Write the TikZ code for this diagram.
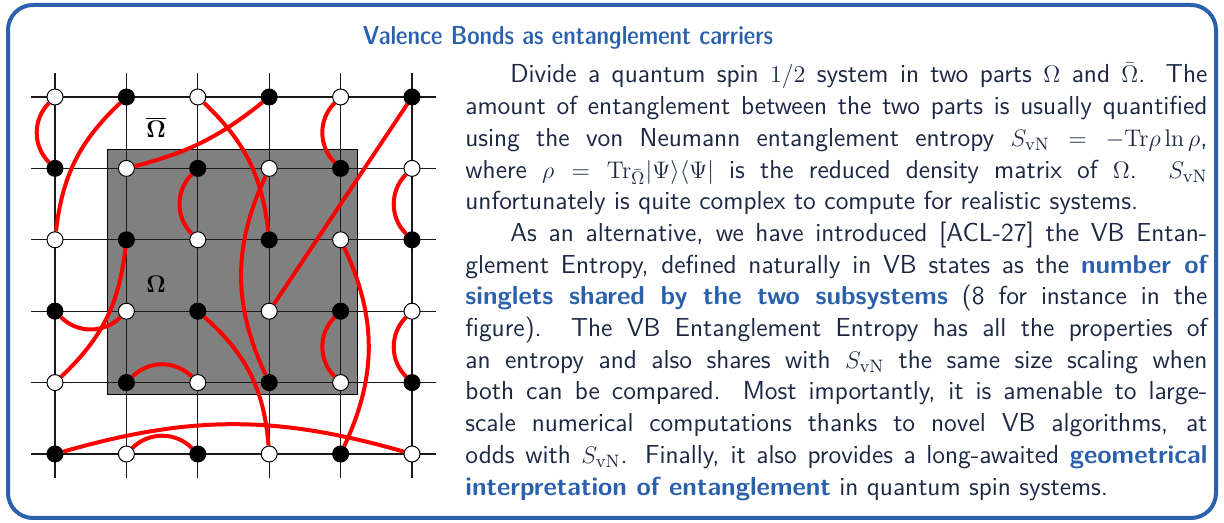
\documentclass[tikz,border=0pt]{standalone}
\usepackage{xcolor}
\usepackage{tikz}
\usepackage{amsmath}

\definecolor{frameblue}{RGB}{43,97,172}
\definecolor{textnavy}{RGB}{28,40,68}
\newcommand{\bluebf}[1]{\textcolor{frameblue}{\bfseries #1}}

\tikzset{
  wsite/.style={circle,draw=black,fill=white,inner sep=0pt,minimum size=8pt,line width=0.5pt},
  bsite/.style={wsite,fill=black},
  bond/.style={red,line width=2pt},
}

\begin{document}
\begin{tikzpicture}[x=0.5pt,y=0.5pt,font=\sffamily\fontsize{13pt}{15.85pt}\selectfont]
\useasboundingbox (0,0) rectangle (1224,523);
\draw[frameblue,line width=2pt,rounded corners=12.5pt] (8,5) rectangle (1216,518);
\node[frameblue,anchor=base,font=\sffamily\fontsize{13pt}{15.85pt}\fontseries{sbc}\selectfont] (title) at (568,478) {Valence Bonds as entanglement carriers};

% lattice, one unit = one bond length
\begin{scope}[shift={(27.5pt,34.5pt)},x=35.7pt,y=35.7pt]
\draw[fill=gray,draw=black,line width=0.5pt] (0.74,0.84) rectangle (4.24,4.26);
\draw[black!90,line width=0.65pt,step=1] (-0.33,-0.33) grid (5.33,5.33);
% sites, top row first
\node[wsite] (n11) at (0,5) {}; \node[bsite] (n12) at (1,5) {}; \node[wsite] (n13) at (2,5) {};
\node[bsite] (n14) at (3,5) {}; \node[wsite] (n15) at (4,5) {}; \node[bsite] (n16) at (5,5) {};
\node[bsite] (n21) at (0,4) {}; \node[wsite] (n22) at (1,4) {}; \node[bsite] (n23) at (2,4) {};
\node[wsite] (n24) at (3,4) {}; \node[bsite] (n25) at (4,4) {}; \node[wsite] (n26) at (5,4) {};
\node[wsite] (n31) at (0,3) {}; \node[bsite] (n32) at (1,3) {}; \node[wsite] (n33) at (2,3) {};
\node[bsite] (n34) at (3,3) {}; \node[wsite] (n35) at (4,3) {}; \node[bsite] (n36) at (5,3) {};
\node[bsite] (n41) at (0,2) {}; \node[wsite] (n42) at (1,2) {}; \node[bsite] (n43) at (2,2) {};
\node[wsite] (n44) at (3,2) {}; \node[bsite] (n45) at (4,2) {}; \node[wsite] (n46) at (5,2) {};
\node[wsite] (n51) at (0,1) {}; \node[bsite] (n52) at (1,1) {}; \node[wsite] (n53) at (2,1) {};
\node[bsite] (n54) at (3,1) {}; \node[wsite] (n55) at (4,1) {}; \node[bsite] (n56) at (5,1) {};
\node[bsite] (n61) at (0,0) {}; \node[wsite] (n62) at (1,0) {}; \node[bsite] (n63) at (2,0) {};
\node[wsite] (n64) at (3,0) {}; \node[bsite] (n65) at (4,0) {}; \node[wsite] (n66) at (5,0) {};
% valence bonds
\draw[bond] (n11) to[bend right=45] (n21);
\draw[bond] (n12) to[bend right=20] (n31);
\draw[bond] (n13) to[bend left=20] (n34);
\draw[bond] (n14) to[bend left=12] (n22);
\draw[bond] (n15) to[bend right=45] (n25);
\draw[bond] (n16) -- (n44);
\draw[bond] (n23) to[bend right=45] (n33);
\draw[bond] (n24) to[bend right=25] (n54);
\draw[bond] (n26) to[bend right=45] (n36);
\draw[bond] (n32) to[bend left=20] (n51);
\draw[bond] (n35) to[bend left=25] (n65);
\draw[bond] (n41) to[bend right=45] (n42);
\draw[bond] (n43) to[bend left=22] (n64);
\draw[bond] (n45) to[bend right=45] (n55);
\draw[bond] (n46) to[bend right=45] (n56);
\draw[bond] (n52) to[bend left=45] (n53);
\draw[bond] (n61) to[bend left=16] (n66);
\draw[bond] (n62) to[bend left=45] (n63);
\node[anchor=base] (omegabar) at (1.415,4.426) {$\overline{\mathbf{\Omega}}$};
\node[anchor=base] (omega) at (1.415,2.255) {$\mathbf{\Omega}$};
\end{scope}

\node[textnavy,anchor=base west,text width=371pt,inner sep=0pt,align=justify] (body) at (465,440) {%
\hspace*{22.5pt}Divide a quantum spin $1/2$ system in two parts $\Omega$ and $\bar{\Omega}$. The\linebreak
amount of entanglement between the two parts is usually quantified\linebreak
using the von Neumann entanglement entropy $S_{\mathrm{vN}}=-\mathrm{Tr}\rho\ln\rho$,\linebreak
where $\rho=\mathrm{Tr}_{\bar{\Omega}}|\Psi\rangle\langle\Psi|$ is the reduced density matrix of $\Omega$. $S_{\mathrm{vN}}$\linebreak
unfortunately is quite complex to compute for realistic systems.\par
\hspace*{22.5pt}As an alternative, we have introduced [ACL-27] the VB Entan-\linebreak
glement Entropy, defined naturally in VB states as the \bluebf{number of}\linebreak
\bluebf{singlets shared by the two subsystems} (8 for instance in the\linebreak
figure). The VB Entanglement Entropy has all the properties of\linebreak
an entropy and also shares with $S_{\mathrm{vN}}$ the same size scaling when\linebreak
both can be compared. Most importantly, it is amenable to large-\linebreak
scale numerical computations thanks to novel VB algorithms, at\linebreak
odds with $S_{\mathrm{vN}}$. Finally, it also provides a long-awaited \bluebf{geometrical}\linebreak
\bluebf{interpretation of entanglement} in quantum spin systems.};
\end{tikzpicture}
\end{document}
